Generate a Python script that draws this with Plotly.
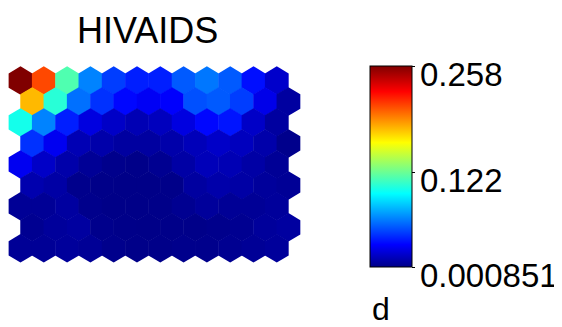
import math
import plotly.graph_objects as go
from plotly.colors import sample_colorscale

# ---- data -------------------------------------------------------------
title_text = "HIVAIDS"
var_label = "d"
n_rows = 9
n_cols = 12
vmin = 0.000851
vmax = 0.258
tick_vals = [0.000851, 0.122, 0.258]
tick_text = ["0.000851", "0.122", "0.258"]

row0 = [0.258, 0.207, 0.115, 0.063, 0.045, 0.037, 0.037, 0.0525, 0.060, 0.0525, 0.033, 0.017]
row1 = [0.178, 0.105, 0.058, 0.042, 0.031, 0.027, 0.029, 0.050, 0.0525, 0.045, 0.024, 0.0066]
row2 = [0.0998, 0.063, 0.037, 0.022, 0.016, 0.0114, 0.0138, 0.022, 0.031, 0.0345, 0.016, 0.0066]
row3 = [0.042, 0.026, 0.0114, 0.009, 0.0066, 0.0066, 0.009, 0.0126, 0.0162, 0.0138, 0.009, 0.0018]
row4 = [0.026, 0.016, 0.009, 0.0042, 0.0018, 0.001, 0.003, 0.0078, 0.0126, 0.0114, 0.0078, 0.0042]
row5 = [0.010, 0.0078, 0.0018, 0.001, 0.00085, 0.00085, 0.001, 0.0066, 0.009, 0.0078, 0.0054, 0.0042]
row6 = [0.0042, 0.0042, 0.0066, 0.0018, 0.00085, 0.00085, 0.001, 0.003, 0.0054, 0.0042, 0.0042, 0.0054]
row7 = [0.003, 0.0054, 0.0066, 0.0018, 0.001, 0.00085, 0.001, 0.001, 0.0018, 0.003, 0.0054, 0.0066]
row8 = [0.0042, 0.0042, 0.0054, 0.0042, 0.0018, 0.001, 0.001, 0.0018, 0.0018, 0.003, 0.0042, 0.0054]
grid_values = [row0, row1, row2, row3, row4, row5, row6, row7, row8]

# MATLAB-style jet colormap
jet = [
    [0.0, "rgb(0,0,136)"],
    [0.111, "rgb(0,0,255)"],
    [0.365, "rgb(0,255,255)"],
    [0.619, "rgb(255,255,0)"],
    [0.873, "rgb(255,0,0)"],
    [1.0, "rgb(128,0,0)"],
]

# ---- build hexagon grid ------------------------------------------------
s3 = math.sqrt(3)
k = 1.02  # tiny overlap to hide anti-aliasing seams
shapes = []
cx_list, cy_list, val_list = [], [], []
for r in range(n_rows):
    for c in range(n_cols):
        v = grid_values[r][c]
        cx = c + 0.5 * (r % 2)
        cy = r * s3 / 2
        verts = [
            (cx, cy - k / s3), (cx + 0.5 * k, cy - 0.5 * k / s3), (cx + 0.5 * k, cy + 0.5 * k / s3),
            (cx, cy + k / s3), (cx - 0.5 * k, cy + 0.5 * k / s3), (cx - 0.5 * k, cy - 0.5 * k / s3),
        ]
        path = "M " + " L ".join(f"{x:.4f},{y:.4f}" for x, y in verts) + " Z"
        t = (v - vmin) / (vmax - vmin)
        t = min(max(t, 0.0), 1.0)
        col = sample_colorscale(jet, [t])[0]
        shapes.append(dict(type="path", path=path, xref="x", yref="y",
                           fillcolor=col, line=dict(width=0)))
        cx_list.append(cx)
        cy_list.append(cy)
        val_list.append(v)

# page adds an 8px body margin, so the figure is slightly smaller and all
# positions below are in figure pixels
W, H = 554, 319
PL, PT, PW, PH = 0, 58, 296, 201
font_fam = "Liberation Sans, Arial"

annotations = []
for tv, tt in zip(tick_vals, tick_text):
    annotations.append(dict(
        text=tt, xref="paper", yref="paper", x=410 / PW, xanchor="left",
        y=(tv - vmin) / (vmax - vmin), yanchor="middle", yshift=-8,
        showarrow=False, font=dict(family=font_fam, size=33, color="black")))
annotations.append(dict(
    text=var_label, xref="paper", yref="paper", x=362 / PW, xanchor="left",
    y=(PH - (301 - PT)) / PH, yanchor="middle", showarrow=False,
    font=dict(family=font_fam, size=32, color="black")))
# chart title
annotations.append(dict(
    text=title_text, xref="paper", yref="paper", x=139.5 / PW, xanchor="center",
    y=1 + (PT - 0.5) / PH, yanchor="top", showarrow=False, borderpad=0,
    font=dict(family=font_fam, size=36, color="black")))

fig = go.Figure()
fig.add_trace(go.Scatter(
    x=cx_list, y=cy_list, mode="markers", hoverinfo="skip",
    marker=dict(
        color=val_list, colorscale=jet, cmin=vmin, cmax=vmax, size=1, opacity=0,
        showscale=True,
        colorbar=dict(
            x=362 / PW, xanchor="left", xpad=0, ypad=0,
            y=1.0, yanchor="top", len=1.0, lenmode="fraction",
            thickness=42, outlinewidth=1, outlinecolor="black",
            tickvals=tick_vals, ticktext=tick_text, showticklabels=False,
            ticks="outside", ticklen=3, tickcolor="black",
        ),
    ),
    showlegend=False,
))

x0 = -12.5 / 23.3
fig.update_layout(
    width=W, height=H,
    margin=dict(l=PL, r=W - PL - PW, t=PT, b=H - PT - PH, autoexpand=False),
    paper_bgcolor="white", plot_bgcolor="white",
    shapes=shapes,
    xaxis=dict(range=[x0, x0 + PW / 23.3], visible=False, fixedrange=True),
    yaxis=dict(range=[7.7, -0.6], visible=False, fixedrange=True),
    annotations=annotations,
)

fig.write_html("out.html")
